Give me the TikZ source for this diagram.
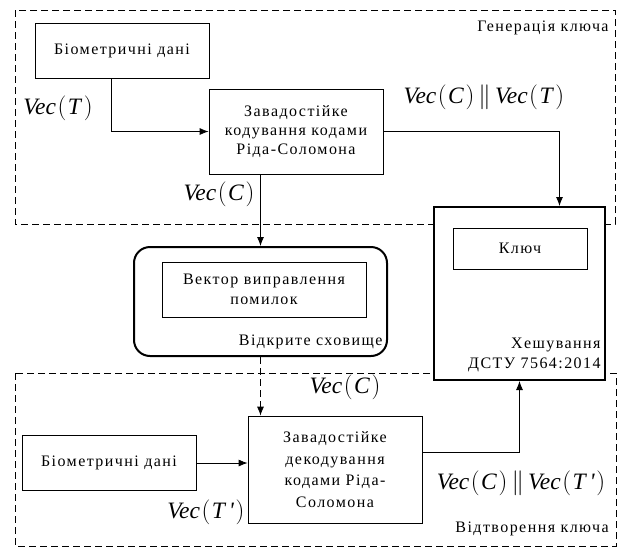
\documentclass[tikz,border=0pt]{standalone}
\usepackage{fontspec}
\setmainfont{Liberation Serif}
\usetikzlibrary{arrows.meta,positioning}
\newcommand{\vecof}[1]{\textit{Vec}\kern1.5pt$\Bigl($\kern1.5pt\textit{#1}\kern1.5pt$\Bigr)$}

\begin{document}
\begin{tikzpicture}[x=1pt, y=-1pt, >={Latex[length=9pt,width=7pt]}, line width=0.8pt, font=\fontsize{16}{20}\selectfont\addfontfeatures{LetterSpace=9}]
        \tikzstyle{block} = [draw, fill=white, rectangle, align=center, inner sep=2pt, minimum width=174, minimum height=55]
        \tikzstyle{frame} = [draw, dash pattern=on 7pt off 4pt]
        \tikzstyle{veclabel} = [font=\fontsize{23.5}{26}\selectfont, inner sep=1pt]
        \tikzstyle{note} = [inner sep=1pt]

        \useasboundingbox (0,0) rectangle (622,547);

        % frames
        \draw [frame] (15,10) rectangle (615,224);
        \draw [frame] (15,373) rectangle (616,546);
        \node [note, anchor=east] (gentitle) at (610,28) {Генерація ключа};
        \node [note, anchor=east] (rectitle) at (610,529) {Відтворення ключа};

        \node [block] (bio1) at (122,50.5) {Біометричні дані};
        \node [block, minimum height=85, font=\fontsize{16}{19}\selectfont\addfontfeatures{LetterSpace=9}] (enc) at (296,131.5) {Завадостійке\\кодування кодами\\Ріда-Соломона};
        \node [block, line width=2pt, minimum width=171, minimum height=173] (hash) at (519.5,293.5) {};
        \node [block, minimum width=134, minimum height=41] (key) at (520,248.5) {Ключ};
        \node [note, anchor=south east, align=right] (hashtxt) at ([xshift=-4,yshift=8]hash.south east) {Хешування\\ДСТУ 7564:2014};
        \node [block, line width=2pt, rounded corners=16pt, minimum width=253, minimum height=109] (store) at (260.5,301.5) {};
        \node [block, minimum width=204, minimum height=55] (vect) at (264,289.5) {Вектор виправлення\\помилок};
        \node [note, anchor=south east] (storetxt) at ([xshift=-4,yshift=7]store.south east) {Відкрите сховище};
        \node [block] (bio2) at (109,463) {Біометричні дані};
        \node [block, minimum height=107, font=\fontsize{16}{21.5}\selectfont\addfontfeatures{LetterSpace=9}] (dec) at (335,469.5) {Завадостійке\\декодування\\кодами Ріда-\\Соломона};

        \node [veclabel] (lt) at (58,108) {\vecof{T}};
        \node [veclabel] (lct) at (484,97) {\vecof{C}$\,\|\,$\vecof{T}};
        \node [veclabel] (lc1) at (219,194) {\vecof{C}};
        \node [veclabel] (lc2) at (345,387) {\vecof{C}};
        \node [veclabel] (ltp) at (206,512) {\vecof{T\,\textquotesingle}};
        \node [veclabel] (lctp) at (521,483) {\vecof{C}$\,\|\,$\vecof{T\,\textquotesingle}};

        \draw [->] ([xshift=-11]bio1.south) |- (enc.west);
        \draw [->] (enc.east) -| ([xshift=40]hash.north);
        \draw [->] (store.north |- enc.south) -- (store.north);
        \draw [->, dash pattern=on 7pt off 4pt] (store.south) -- (store.south |- dec.north);
        \draw [->] (bio2.east) -- (bio2.east -| dec.west);
        \draw [->] ([yshift=17.5]dec.east) -| (hash.south);
\end{tikzpicture}
\end{document}
